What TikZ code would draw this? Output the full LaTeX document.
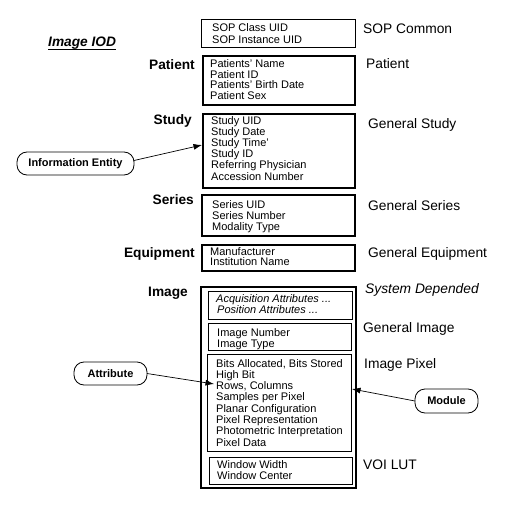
\documentclass[tikz,border=0pt]{standalone}
\usepackage{fontspec}
\setmainfont{Liberation Sans}
\usetikzlibrary{arrows.meta}
\tikzset{
  thinbox/.style={draw, line width=0.9pt, inner sep=0pt, outer sep=0pt},
  thickbox/.style={draw, line width=2pt, inner sep=0pt, outer sep=0pt},
  attr/.style={font=\fontsize{11}{11}\selectfont, inner sep=0pt, anchor=base west},
  italattr/.style={attr, font=\itshape\fontsize{11}{11}\selectfont},
  modname/.style={font=\fontsize{13.8}{14}\selectfont, inner sep=0pt, anchor=base west},
  iename/.style={font=\bfseries\fontsize{13.7}{14}\selectfont, inner sep=0pt, anchor=base east},
  callout/.style={draw, line width=0.8pt, rounded corners=10pt, font=\bfseries\fontsize{11}{11}\selectfont, inner sep=0pt, outer sep=0pt},
  pointer/.style={line width=0.7pt, -{Latex[length=8.5pt,width=6pt]}},
}
% #1 extra style, #2 name, #3 x, #4 first baseline, #5 line step, #6 list
\newcommand\attrlines[6]{\foreach \t [count=\i] in {#6}{\node[attr,#1] (#2-\i) at (#3,{#4+(\i-1)*#5}) {\t};}}
\begin{document}
\begin{tikzpicture}[x=1pt,y=-1pt]
\useasboundingbox (0,0) rectangle (514,511);

% title
\node[font=\bfseries\itshape\fontsize{13.7}{14}\selectfont, inner sep=0pt, anchor=base west] (iod) at (48,46.7) {Image IOD};
\draw[line width=1pt] ([yshift=-2.4pt]iod.base west) -- ([yshift=-2.4pt]iod.base east);

% module boxes
\node[thinbox,  minimum width=154, minimum height=28] (sop)   at (278,33) {};
\node[thickbox, minimum width=152, minimum height=49] (pat)   at (279,80.5) {};
\node[thickbox, minimum width=152, minimum height=74] (study) at (279,151) {};
\node[thickbox, minimum width=153, minimum height=41] (series) at (278.5,215.5) {};
\node[thickbox, minimum width=153, minimum height=26] (equip) at (278.5,258) {};
\node[thickbox, minimum width=155, minimum height=201] (image) at (278.5,387.5) {};
\node[thinbox,  minimum width=144, minimum height=28] (acq)   at (280,305) {};
\node[thinbox,  minimum width=143, minimum height=27] (inum)  at (279.5,336.5) {};
\node[thinbox,  minimum width=144, minimum height=97] (pix)   at (279,402.5) {};
\node[thinbox,  minimum width=143, minimum height=27] (voi)   at (280.5,470.5) {};

% attributes
\attrlines{}{sopl}{212}{31.8}{11.3}{SOP Class UID, SOP Instance UID}
\attrlines{}{patl}{210}{67.3}{10.8}{Patients’ Name, Patient ID, Patients’ Birth Date, Patient Sex}
\attrlines{}{stul}{211}{124}{11.2}{Study UID, Study Date, Study Time’, Study ID, Referring Physician, Accession Number}
\attrlines{}{serl}{212}{208}{11}{Series UID, Series Number, Modality Type}
\attrlines{}{eqpl}{210}{255}{10.6}{Manufacturer, Institution Name}
\node[italattr] (acql-1) at (216,302) {Acquisition Attributes ...};
\node[italattr] (acql-2) at (217,313) {Position Attributes ...};
\attrlines{}{inml}{217}{336}{11}{Image Number, Image Type}
\attrlines{}{pixl}{216}{367}{11.3}{{Bits Allocated, Bits Stored}, High Bit, {Rows, Columns}, Samples per Pixel, Planar Configuration, Pixel Representation, Photometric Interpretation, Pixel Data}
\attrlines{}{voil}{217}{468}{11}{Window Width, Window Center}

% information entity labels
\node[iename] (ePat)   at (195,69.5) {Patient};
\node[iename] (eStudy) at (192,124) {Study};
\node[iename] (eSer)   at (194,204) {Series};
\node[iename] (eEqp)   at (195,257) {Equipment};
\node[iename] (eImg)   at (188,296.5) {Image};

% module names
\node[modname] (mSop)  at (363,33.3) {SOP Common};
\node[modname] (mPat)  at (366,68) {Patient};
\node[modname] (mStu)  at (368,128.3) {General Study};
\node[modname] (mSer)  at (368,210) {General Series};
\node[modname] (mEqp)  at (368,257.3) {General Equipment};
\node[modname, font=\itshape\fontsize{13.8}{14}\selectfont] (mSys) at (365,293.3) {System Depended};
\node[modname] (mImg)  at (363,332.7) {General Image};
\node[modname] (mPix)  at (364,368) {Image Pixel};
\node[modname] (mVoi)  at (363,469.3) {VOI LUT};

% callouts
\node[callout, minimum width=117, minimum height=23] (ie)  at (75.5,163.5) {Information Entity};
\node[callout, minimum width=73,  minimum height=23] (att) at (110.5,373.5) {Attribute};
\node[callout, minimum width=63,  minimum height=24] (mod) at (446.5,401) {Module};

\coordinate (ieTip)  at (202,145);
\coordinate (attTip) at (214,384);
\coordinate (modTip) at (352,389);
\draw[pointer] ([yshift=3pt]ie.east) -- (ieTip);
\draw[pointer] (att.east) -- (attTip);
\draw[pointer] (mod.west) -- (modTip);
\end{tikzpicture}
\end{document}
